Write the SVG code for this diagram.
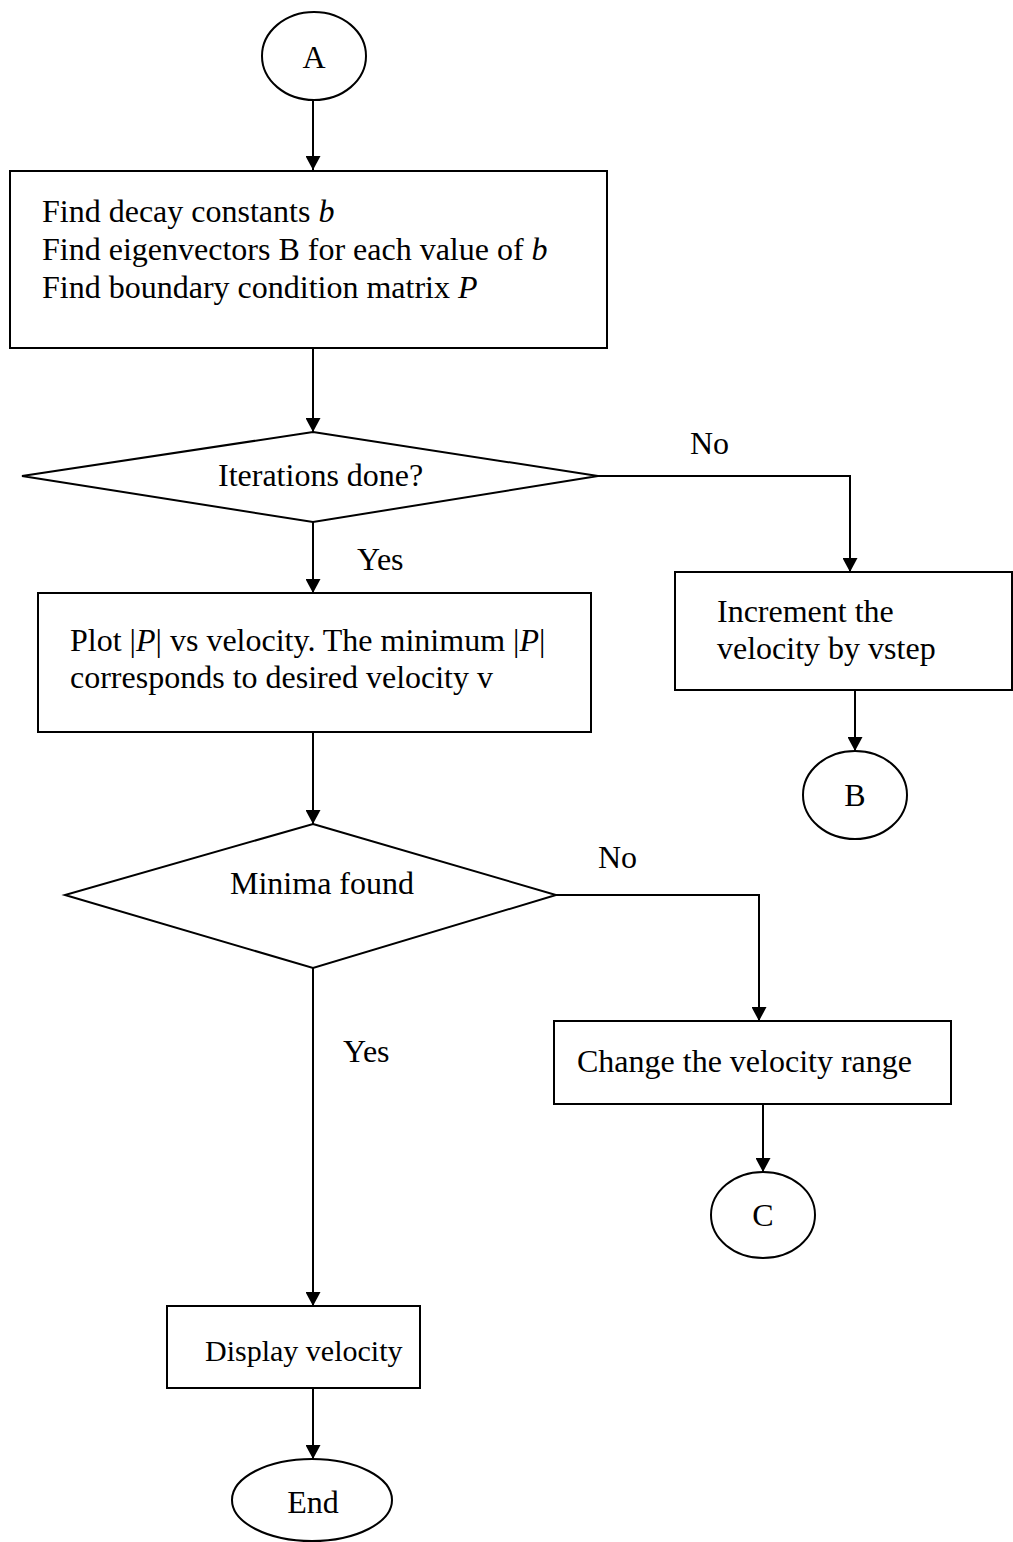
<svg xmlns="http://www.w3.org/2000/svg" width="1013" height="1542" viewBox="0 0 1013 1542">
<style>
.s{fill:#fff;stroke:#000;stroke-width:2}
.c{fill:none;stroke:#000;stroke-width:2}
text{font-family:"Liberation Serif","Times New Roman",serif;font-size:32px;fill:#000}
.i{font-style:italic}
</style>
<defs>
<marker id="ah" markerUnits="userSpaceOnUse" markerWidth="14" markerHeight="15" viewBox="0 0 14 15" refX="14" refY="7.5" orient="auto">
<path d="M0,0 L14,7.5 L0,15 z" fill="#000"/>
</marker>
</defs>
<rect width="1013" height="1542" fill="#fff"/>
<g id="connectors">
<line class="c" x1="313" y1="100" x2="313" y2="170" marker-end="url(#ah)"/>
<line class="c" x1="313" y1="348" x2="313" y2="432" marker-end="url(#ah)"/>
<path class="c" d="M598,476 H850 V572" marker-end="url(#ah)"/>
<line class="c" x1="313" y1="522" x2="313" y2="593" marker-end="url(#ah)"/>
<line class="c" x1="855" y1="690" x2="855" y2="751" marker-end="url(#ah)"/>
<line class="c" x1="313" y1="732" x2="313" y2="824" marker-end="url(#ah)"/>
<path class="c" d="M556,895 H759 V1021" marker-end="url(#ah)"/>
<line class="c" x1="313" y1="968" x2="313" y2="1306" marker-end="url(#ah)"/>
<line class="c" x1="763" y1="1104" x2="763" y2="1172" marker-end="url(#ah)"/>
<line class="c" x1="313" y1="1388" x2="313" y2="1459" marker-end="url(#ah)"/>
<text x="690" y="454">No</text>
<text x="357" y="570">Yes</text>
<text x="598" y="868">No</text>
<text x="343" y="1062">Yes</text>
</g>
<g id="nodeA">
<ellipse class="s" cx="314" cy="56" rx="52" ry="44"/>
<text x="314" y="68" text-anchor="middle">A</text>
</g>
<g id="box1">
<rect class="s" x="10" y="171" width="597" height="177"/>
<text x="42" y="222">Find decay constants <tspan class="i">b</tspan></text>
<text x="42" y="260">Find eigenvectors B for each value of <tspan class="i">b</tspan></text>
<text x="42" y="298">Find boundary condition matrix <tspan class="i">P</tspan></text>
</g>
<g id="decision1">
<polygon class="s" points="313,432 598,476 313,522 22,476"/>
<text x="218" y="486">Iterations done?</text>
</g>
<g id="increment">
<rect class="s" x="675" y="572" width="337" height="118"/>
<text x="717" y="622">Increment the</text>
<text x="717" y="659">velocity by vstep</text>
</g>
<g id="nodeB">
<ellipse class="s" cx="855" cy="795" rx="52" ry="44"/>
<text x="855" y="806" text-anchor="middle">B</text>
</g>
<g id="box2">
<rect class="s" x="38" y="593" width="553" height="139"/>
<text x="70" y="651">Plot |<tspan class="i">P</tspan>| vs velocity. The minimum |<tspan class="i">P</tspan>|</text>
<text x="70" y="688">corresponds to desired velocity v</text>
</g>
<g id="decision2">
<polygon class="s" points="313,824 556,895 313,968 65,895"/>
<text x="230" y="894">Minima found</text>
</g>
<g id="change">
<rect class="s" x="554" y="1021" width="397" height="83"/>
<text x="577" y="1072">Change the velocity range</text>
</g>
<g id="nodeC">
<ellipse class="s" cx="763" cy="1215" rx="52" ry="43"/>
<text x="763" y="1226" text-anchor="middle">C</text>
</g>
<g id="display">
<rect class="s" x="167" y="1306" width="253" height="82"/>
<text x="205" y="1361" style="font-size:30px">Display velocity</text>
</g>
<g id="nodeEnd">
<ellipse class="s" cx="312" cy="1500" rx="80" ry="41"/>
<text x="313" y="1513" text-anchor="middle">End</text>
</g>
</svg>
